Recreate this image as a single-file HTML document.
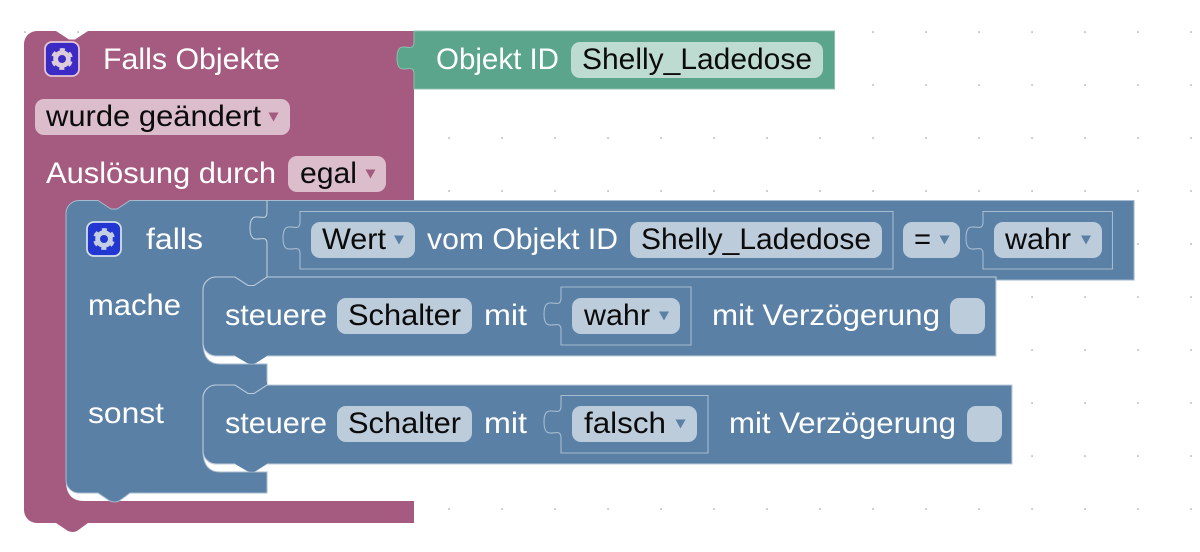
<!DOCTYPE html>
<html><head><meta charset="utf-8"><style>
html,body{margin:0;padding:0;background:#fff;width:1200px;height:552px;overflow:hidden}
svg{display:block}
text{font-family:"Liberation Sans",sans-serif;font-size:30px}
.w{fill:#fff}.k{fill:#0b0b0b}
</style></head><body>
<svg width="1200" height="552" viewBox="0 0 1200 552" xmlns="http://www.w3.org/2000/svg">
<defs>
<pattern id="g" x="24" y="31" width="53" height="53" patternUnits="userSpaceOnUse"><rect x="0.4" y="0.4" width="1.3" height="1.3" fill="#8f8f8f"/></pattern>
<g id="gear"><circle cx="17" cy="17" r="6.4" fill="none" stroke-width="4.8"/><circle cx="17" cy="17" r="9.4" fill="none" stroke-width="3" stroke-dasharray="5 4.85" stroke-dashoffset="-2.5"/></g>
</defs>
<rect width="1200" height="552" fill="#fff"/>
<rect width="1200" height="552" fill="url(#g)"/>

<!-- purple -->
<path d="M24,44A13,13 0 0 1 37,31H56l13,8.5h6l13,-8.5H414V215H66V483Q67,501 84,501H414V523H88l-11,8q-4,2 -9,0l-12,-8H37A13,13 0 0 1 24,510Z" fill="#a55a7f"/>

<!-- green -->
<path d="M414,31H834.5V89H414V74c0,-14 -17,6 -17,-16s17,-2 17,-16Z" fill="#5ba58c" stroke="#8cc0ae" stroke-width="1"/>
<rect x="571" y="42" width="252" height="36" rx="9" fill="#bddbd1"/>

<!-- blue body -->
<path d="M66,213.5A13,13 0 0 1 79,200.5H98l13,8.5h6l13,-8.5H1134V280H267V277H216A13,13 0 0 0 203,290V345Q204,364 220,364H267V385H216A13,13 0 0 0 203,398V453Q204,472 220,472H267V493H130l-11,8q-4,2 -9,0l-12,-8H79A13,13 0 0 1 66,480Z" fill="#5b80a5" stroke="#a5bbd0" stroke-width="1"/>
<rect x="228" y="274" width="39" height="16" fill="#5b80a5"/>
<rect x="228" y="382" width="39" height="16" fill="#5b80a5"/>
<path d="M267,200.5V212c0,14 -17,-6 -17,16s17,2 17,16V277" fill="none" stroke="#bdccdb" stroke-width="1.1"/>
<path d="M1134,200.5V280H996" fill="none" stroke="#9db4ca" stroke-width="1.1"/>

<!-- compare inner blocks -->
<path d="M300,211.5H893V269H300V254c0,-14 -17,6 -17,-16s17,-2 17,-16Z" fill="#5b80a5" stroke="#a5bbd0" stroke-width="1.1"/>
<path d="M983,211.5H1112.5V269H983V254c0,-14 -17,6 -17,-16s17,-2 17,-16Z" fill="#5b80a5" stroke="#a5bbd0" stroke-width="1.1"/>

<!-- statement 1 -->
<path d="M203,290A13,13 0 0 1 216,277H235l13,8.5h6l13,-8.5H996V356H267l-11,7q-4,1.5 -9,0l-12,-7H216A13,13 0 0 1 203,343Z" fill="#5b80a5"/>
<path d="M203,343V290A13,13 0 0 1 216,277H235l13,8.5h6l13,-8.5H996V356H267M235,356H216A13,13 0 0 1 203,343" fill="none" stroke="#bdccdb" stroke-width="1.1"/>
<path d="M561,287H691V345H561V330c0,-14 -17,6 -17,-16s17,-2 17,-16Z" fill="#5b80a5" stroke="#a5bbd0" stroke-width="1.1"/>

<!-- statement 2 -->
<path d="M203,398A13,13 0 0 1 216,385H235l13,8.5h6l13,-8.5H1012V464H267l-11,7q-4,1.5 -9,0l-12,-7H216A13,13 0 0 1 203,451Z" fill="#5b80a5"/>
<path d="M203,451V398A13,13 0 0 1 216,385H235l13,8.5h6l13,-8.5H1012V464H267M235,464H216A13,13 0 0 1 203,451" fill="none" stroke="#bdccdb" stroke-width="1.1"/>
<path d="M561,395.5H708V453H561V438c0,-14 -17,6 -17,-16s17,-2 17,-16Z" fill="#5b80a5" stroke="#a5bbd0" stroke-width="1.1"/>

<!-- pills purple -->
<rect x="35" y="99" width="255" height="36" rx="9" fill="#dbbdcc"/>
<rect x="288" y="156" width="98" height="36" rx="9" fill="#dbbdcc"/>
<path d="M268.5,112.5h10l-5,9Z" fill="#a55a7f"/>
<path d="M365.5,169.5h10l-5,9Z" fill="#a55a7f"/>

<!-- pills blue -->
<g fill="#bdccdb">
<rect x="311" y="222" width="104" height="36" rx="9"/>
<rect x="630" y="222" width="252" height="36" rx="9"/>
<rect x="903" y="222" width="57" height="36" rx="9"/>
<rect x="994" y="222" width="108" height="36" rx="9"/>
<rect x="337" y="298" width="135" height="36" rx="9"/>
<rect x="572" y="298" width="108" height="36" rx="9"/>
<rect x="950" y="298" width="35" height="36" rx="9"/>
<rect x="337" y="406" width="135" height="36" rx="9"/>
<rect x="572" y="406" width="125" height="36" rx="9"/>
<rect x="967" y="406" width="35" height="36" rx="9"/>
</g>
<g fill="#5b80a5">
<path d="M394,235.5h10l-5,9Z"/>
<path d="M939.5,235.5h10l-5,9Z"/>
<path d="M1081,235.5h10l-5,9Z"/>
<path d="M659,311.5h10l-5,9Z"/>
<path d="M675.5,419.5h10l-5,9Z"/>
</g>

<!-- gears -->
<rect x="45" y="42" width="34" height="34" rx="7" fill="#3b2bc4" stroke="#e3c6d6" stroke-width="1.8"/>
<use href="#gear" x="45" y="42" stroke="#dccbdc"/>
<rect x="87" y="222" width="34" height="34" rx="7" fill="#2236d2" stroke="#d3e0ee" stroke-width="1.8"/>
<use href="#gear" x="87" y="222" stroke="#c5cfe3"/>

<!-- text -->
<g class="w">
<text class="w" x="103" y="69" textLength="177" lengthAdjust="spacingAndGlyphs">Falls Objekte</text>
<text class="w" x="46" y="183" textLength="230" lengthAdjust="spacingAndGlyphs">Auslösung durch</text>
<text class="w" x="436" y="69" textLength="123" lengthAdjust="spacingAndGlyphs">Objekt ID</text>
<text class="w" x="146" y="249" textLength="57" lengthAdjust="spacingAndGlyphs">falls</text>
<text class="w" x="427" y="249" textLength="191" lengthAdjust="spacingAndGlyphs">vom Objekt ID</text>
<text class="w" x="88" y="315" textLength="93" lengthAdjust="spacingAndGlyphs">mache</text>
<text class="w" x="88" y="423" textLength="76" lengthAdjust="spacingAndGlyphs">sonst</text>
<text class="w" x="225" y="325" textLength="102" lengthAdjust="spacingAndGlyphs">steuere</text>
<text class="w" x="484" y="325" textLength="43" lengthAdjust="spacingAndGlyphs">mit</text>
<text class="w" x="712" y="325" textLength="228" lengthAdjust="spacingAndGlyphs">mit Verzögerung</text>
<text class="w" x="225" y="433" textLength="102" lengthAdjust="spacingAndGlyphs">steuere</text>
<text class="w" x="484" y="433" textLength="43" lengthAdjust="spacingAndGlyphs">mit</text>
<text class="w" x="729" y="433" textLength="227" lengthAdjust="spacingAndGlyphs">mit Verzögerung</text>
</g>
<g>
<text class="k" x="46" y="126" textLength="215" lengthAdjust="spacingAndGlyphs">wurde geändert</text>
<text class="k" x="300" y="183" textLength="57" lengthAdjust="spacingAndGlyphs">egal</text>
<text class="k" x="582" y="69" textLength="230" lengthAdjust="spacingAndGlyphs">Shelly_Ladedose</text>
<text class="k" x="322" y="249" textLength="64" lengthAdjust="spacingAndGlyphs">Wert</text>
<text class="k" x="641" y="249" textLength="230" lengthAdjust="spacingAndGlyphs">Shelly_Ladedose</text>
<text class="k" x="914" y="249" textLength="17" lengthAdjust="spacingAndGlyphs">=</text>
<text class="k" x="1005" y="249" textLength="66" lengthAdjust="spacingAndGlyphs">wahr</text>
<text class="k" x="348" y="325" textLength="113" lengthAdjust="spacingAndGlyphs">Schalter</text>
<text class="k" x="584" y="325" textLength="66" lengthAdjust="spacingAndGlyphs">wahr</text>
<text class="k" x="348" y="433" textLength="113" lengthAdjust="spacingAndGlyphs">Schalter</text>
<text class="k" x="584" y="433" textLength="82" lengthAdjust="spacingAndGlyphs">falsch</text>
</g>
</svg>
</body></html>
